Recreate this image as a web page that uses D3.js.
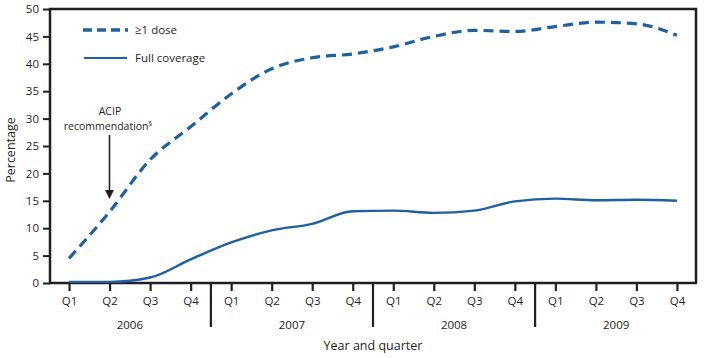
<!DOCTYPE html>
<html><head><meta charset="utf-8">
<script src="https://cdn.jsdelivr.net/npm/d3@7"></script>
<style>body{margin:0;background:#fff}svg{display:block}text{font-family:"Open Sans","Noto Sans",sans-serif;fill:#231f20}</style>
</head><body><svg id="c" width="714" height="358"></svg>
<script>
const years = ["2006","2007","2008","2009"];
const quarters = ["Q1","Q2","Q3","Q4"];
const atLeastOneDose = [4.5,13,22.5,28.5, 34.5,39.1,41.1,41.8, 43.1,45.0,46.1,45.9, 46.8,47.6,47.3,45.2];
const fullCoverage = [0.2,0.2,1.0,4.3, 7.4,9.6,10.8,13.1, 13.2,12.8,13.2,14.9, 15.4,15.1,15.2,15.0];
const yTicks = [0,5,10,15,20,25,30,35,40,45,50];

const keys = [];
years.forEach(y => quarters.forEach(q => keys.push(y + "-" + q)));

const svg = d3.select("#c");
const L = 50, R = 696, T = 9, B = 283;
const x = d3.scalePoint().domain(keys).range([L, R]).padding(0.47);
const y = d3.scaleLinear().domain([0, 50]).range([B, T]);
const ink = "#231f20", blue = "#1f5fa3";

// frame
svg.append("path").attr("d", `M${L},${B}V${T}H${R}V${B}`).attr("fill","none").attr("stroke",ink).attr("stroke-width",2.5);
svg.append("line").attr("x1",L-1).attr("x2",R+1).attr("y1",B).attr("y2",B).attr("stroke",ink).attr("stroke-width",2.5);

// y axis
const ya = svg.append("g").attr("transform",`translate(${L},0)`)
  .call(d3.axisLeft(y).tickValues(yTicks).tickSize(7).tickPadding(4));
ya.select(".domain").remove();
ya.selectAll(".tick line").attr("stroke",ink).attr("stroke-width",2);
ya.selectAll(".tick text").attr("font-size",11.5).attr("fill",ink).style("font-family",'"Open Sans","Noto Sans",sans-serif');

// x axis
const xa = svg.append("g").attr("transform",`translate(0,${B})`)
  .call(d3.axisBottom(x).tickSize(8).tickPadding(6).tickFormat(d => d.split("-")[1]));
xa.select(".domain").remove();
xa.selectAll(".tick line").attr("stroke",ink).attr("stroke-width",2.2);
xa.selectAll(".tick text").attr("font-size",11.5).attr("fill",ink).style("font-family",'"Open Sans","Noto Sans",sans-serif');

// year separators and labels
const step = x.step();
years.forEach((yr, i) => {
  const first = x(yr + "-Q1"), last = x(yr + "-Q4");
  if (i > 0) svg.append("line").attr("x1", first - step/2).attr("x2", first - step/2)
      .attr("y1", B).attr("y2", B + 44).attr("stroke", ink).attr("stroke-width", 2.2);
  svg.append("text").attr("x", (first + last)/2).attr("y", 329).attr("text-anchor","middle")
     .attr("font-size",11.5).text(yr);
});

svg.append("text").attr("x", (L+R)/2).attr("y", 350).attr("text-anchor","middle").attr("font-size",12.5).text("Year and quarter");
svg.append("text").attr("transform","translate(15,150) rotate(-90)").attr("text-anchor","middle").attr("font-size",12.5).text("Percentage");

// lines
const line = d3.line().x((d,i) => x(keys[i])).y(d => y(d)).curve(d3.curveMonotoneX);
svg.append("path").datum(atLeastOneDose).attr("d", line).attr("fill","none")
  .attr("stroke", blue).attr("stroke-width", 3.2).attr("stroke-dasharray","10,6");
svg.append("path").datum(fullCoverage).attr("d", line).attr("fill","none")
  .attr("stroke", blue).attr("stroke-width", 2.4);

// legend
svg.append("line").attr("x1",83).attr("x2",128).attr("y1",30).attr("y2",30).attr("stroke",blue).attr("stroke-width",3.6).attr("stroke-dasharray","9,5");
svg.append("text").attr("x",135).attr("y",34).attr("font-size",11.5).text("≥1 dose");
svg.append("line").attr("x1",84).attr("x2",127).attr("y1",58).attr("y2",58).attr("stroke",blue).attr("stroke-width",2.2);
svg.append("text").attr("x",135).attr("y",62).attr("font-size",11.5).text("Full coverage");

// annotation
svg.append("text").attr("x",110).attr("y",115).attr("text-anchor","middle").attr("font-size",10.5).text("ACIP");
const rec = svg.append("text").attr("x",108).attr("y",130).attr("text-anchor","middle").attr("font-size",10.5);
rec.append("tspan").text("recommendation");
rec.append("tspan").attr("font-size",7).attr("dy",-4).text("§");
svg.append("line").attr("x1",109.5).attr("x2",109.5).attr("y1",135).attr("y2",191).attr("stroke",ink).attr("stroke-width",1.6);
svg.append("path").attr("d","M105,190 L114,190 L109.5,199 Z").attr("fill",ink);
</script></body></html>
